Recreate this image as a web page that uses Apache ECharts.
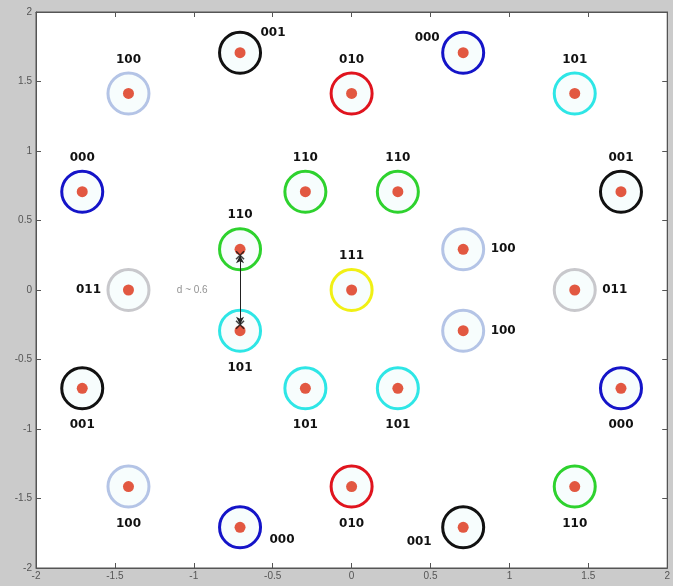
<!DOCTYPE html>
<html>
<head>
<meta charset="utf-8">
<title>Constellation</title>
<script src="https://cdn.jsdelivr.net/npm/echarts@6/dist/echarts.min.js"></script>
<style>
  html, body { margin: 0; padding: 0; background: #cbcbcb; }
  #chart { width: 673px; height: 586px; }
</style>
</head>
<body>
<div id="chart"></div>
<script>
// Constellation points (in-phase / quadrature) and their bit labels
const pointX = [-0.707, 0, 0.707, -1.414, 1.414, -1.707, 1.707, -0.293, 0.293, -0.707, 0.707,
                -1.414, 0, 1.414, -0.707, 0.707, -1.707, 1.707, -0.293, 0.293, -1.414, 0, 1.414, -0.707, 0.707];
const pointY = [1.707, 1.414, 1.707, 1.414, 1.414, 0.707, 0.707, 0.707, 0.707, 0.293, 0.293,
                0, 0, 0, -0.293, -0.293, -0.707, -0.707, -0.707, -0.707, -1.414, -1.414, -1.414, -1.707, -1.707];
const codes  = ['001', '010', '000', '100', '101', '000', '001', '110', '110', '110', '100',
                '011', '111', '011', '101', '100', '001', '000', '101', '101', '100', '010', '110', '000', '001'];
// Which side of the ring each code label sits on
const labelSide = ['ne', 'top', 'nw', 'top', 'top', 'top', 'top', 'top', 'top', 'top', 'right',
                   'left', 'top', 'right', 'bottom', 'right', 'bottom', 'bottom', 'bottom', 'bottom', 'bottom', 'bottom', 'bottom', 'se', 'sw'];
// Axis ticks
const axisMin = -2, axisMax = 2, tickStep = 0.5;
// Distance marker between the two neighbouring points
const distFrom = [-0.707, 0.25];
const distTo = [-0.707, -0.25];
const distText = 'd ~ 0.6';
const distTextAt = [-1.01, 0];

const ringColor = {
  '000': '#1414c8', '001': '#111111', '010': '#e0141e', '011': '#c8c8cc',
  '100': '#b4c4e6', '101': '#2ee6e6', '110': '#2ed22e', '111': '#f0f014'
};
const sideOffset = {
  top: [0, -34], bottom: [0, 37], left: [-40, 0], right: [40, 0],
  ne: [33, -20], nw: [-36, -15], se: [42, 13], sw: [-44, 15]
};

const rings = pointX.map((x, i) => ({
  value: [x, pointY[i]],
  itemStyle: { borderColor: ringColor[codes[i]] },
  label: { offset: sideOffset[labelSide[i]], formatter: codes[i] }
}));
const dots = pointX.map((x, i) => [x, pointY[i]]);

const fmt = v => String(Math.round(v * 10) / 10);

const frameAxis = (pos, showLabels, isX) => ({
  type: 'value', min: axisMin, max: axisMax, interval: tickStep, position: pos,
  splitLine: { show: false },
  axisLine: { onZero: false, lineStyle: { color: '#555' } },
  axisTick: { inside: true, length: 5, lineStyle: { color: '#555' } },
  axisLabel: showLabels
    ? { color: '#555', fontSize: 10, fontFamily: 'Liberation Sans', margin: isX ? 3 : 4, formatter: fmt }
    : { show: false }
});

const chart = echarts.init(document.getElementById('chart'));
chart.setOption({
  backgroundColor: '#cbcbcb',
  animation: false,
  grid: { left: 36, right: 5, top: 12, bottom: 18, show: true, backgroundColor: '#ffffff', borderColor: '#555', borderWidth: 1 },
  xAxis: [frameAxis('bottom', true, true), frameAxis('top', false, true)],
  yAxis: [frameAxis('left', true, false), frameAxis('right', false, false)],
  series: [
    {
      type: 'scatter', name: 'rings', symbol: 'circle', symbolSize: 41, z: 2,
      itemStyle: { color: 'rgba(232,248,250,0.35)', borderWidth: 3, opacity: 1 },
      label: { show: true, color: '#111', fontSize: 12, fontWeight: 'bold', fontFamily: 'DejaVu Sans' },
      data: rings
    },
    {
      type: 'scatter', name: 'points', symbol: 'circle', symbolSize: 11, z: 3,
      itemStyle: { color: '#dc2e12' },
      data: dots
    },
    {
      type: 'scatter', name: 'ends', z: 4,
      symbol: 'path://M0,0L10,10M10,0L0,10', symbolSize: 8,
      itemStyle: { color: 'none', borderColor: '#111', borderWidth: 1.5 },
      data: [distFrom, distTo],
      markLine: {
        silent: true, symbol: ['arrow', 'arrow'], symbolSize: [6, 8],
        lineStyle: { color: '#222', width: 1, type: 'solid' },
        label: { show: false },
        data: [[{ coord: distFrom }, { coord: distTo }]]
      }
    },
    {
      type: 'scatter', name: 'note', symbolSize: 1, z: 4,
      itemStyle: { color: 'rgba(0,0,0,0)' },
      label: { show: true, position: 'inside', formatter: distText, color: '#777', fontSize: 10, fontFamily: 'Liberation Sans' },
      data: [distTextAt]
    }
  ]
});
</script>
</body>
</html>
